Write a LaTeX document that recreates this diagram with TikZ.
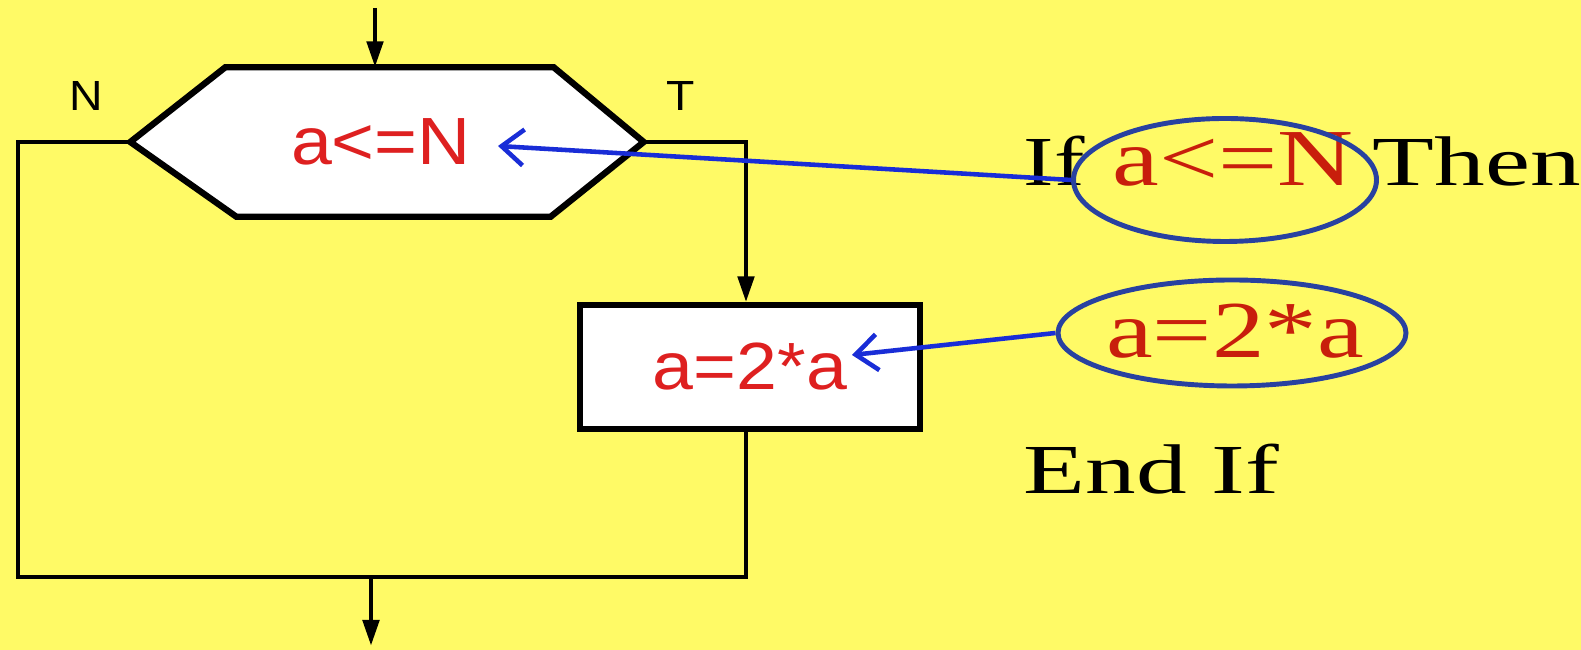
\documentclass[tikz,border=0pt]{standalone}
\usepackage{fontspec}
\setmainfont[FakeStretch=1.3]{Liberation Serif}
\newfontfamily\codewide[FakeStretch=1.44]{Liberation Serif}
\newfontfamily\flowfont[FakeStretch=1.1]{Liberation Sans}
\usepackage{tikz}
\usetikzlibrary{arrows.meta,positioning,shapes.geometric,calc}
\definecolor{IFyellow}{RGB}{255,250,102}
\definecolor{IFred}{RGB}{222,32,32}
\definecolor{IFcode}{RGB}{200,30,12}
\definecolor{IFblue}{RGB}{25,45,215}
\definecolor{IFoval}{RGB}{40,65,160}
\tikzset{
  hexline/.style={line width=1.8pt,draw=black,fill=white,line join=miter},
  procbox/.style={draw=black,line width=1.5pt,fill=white,text=IFred,
                  font=\flowfont\fontsize{19}{22}\selectfont,
                  minimum width=3.4cm,minimum height=1.24cm,inner sep=0pt},
  condtext/.style={text=IFred,font=\flowfont\fontsize{19}{22}\selectfont,
                   minimum width=5.12cm,minimum height=1.48cm,inner sep=0pt},
  branch/.style={font=\flowfont\fontsize{12}{14}\selectfont,text=black},
  code/.style={font=\fontsize{20}{24}\selectfont,text=black,inner sep=0pt},
  codered/.style={font=\fontsize{23}{27}\selectfont,text=IFcode,inner sep=0pt},
  oval/.style={ellipse,draw=IFoval,line width=1.4pt},
  ln/.style={line width=1.4pt,draw=black},
  fl/.style={-{Triangle[length=2.6mm,width=1.6mm]},line width=1.4pt,draw=black},
  pt/.style={-{Straight Barb[length=2.2mm,width=3.6mm]},line width=1.3pt,draw=IFblue}
}
\begin{document}
\begin{tikzpicture}
  \useasboundingbox (0,0) rectangle (15.81,6.5);
  \fill[IFyellow] (0,0) rectangle (15.81,6.5);

  % flowchart
  \node[condtext] (cond) at (3.87,5.08) {};
  \draw[hexline] (cond.west) -- ($(cond.north west)+(0.95,0)$) -- ($(cond.north east)+(-0.9,0)$)
    -- (cond.east) -- ($(cond.south east)+(-0.93,0)$) -- ($(cond.south west)+(1.06,0)$) -- cycle;
  \node[condtext] (condtxt) at (3.81,5.08) {a<=N};
  \node[procbox] (assign) at (7.50,2.83) {a=2*a};
  \node[branch] (lblN) at (0.86,5.54) {N};
  \node[branch] (lblT) at (6.81,5.54) {T};

  \coordinate (in) at (3.75,6.42);
  \coordinate (nl) at (0.18,0.73);
  \coordinate (merge) at (7.46,0.73);
  \coordinate (out) at (3.71,0.04);

  \draw[fl] (in) -- (in |- cond.north);
  \draw[fl] (cond.east) -| (merge |- assign.north);
  \draw[ln] (cond.west) -| (nl) -- (merge) -- (merge |- assign.south);
  \draw[fl] (out |- merge) -- (out);

  % code
  \node[code,anchor=base west] (kwif) at (10.23,4.64) {If};
  \node[codered,anchor=base west] (cond2) at (11.12,4.64) {a<=N};
  \node[code,anchor=base west] (kwthen) at (13.72,4.64) {\codewide Then};
  \node[codered,anchor=base] (assign2) at (12.35,2.92) {a=2*a};
  \node[code,anchor=base west] (kwend) at (10.23,1.56) {\codewide End If};
  \node[oval,minimum width=3.03cm,minimum height=1.23cm] (ell1) at (12.25,4.70) {};
  \node[oval,minimum width=3.48cm,minimum height=1.06cm] (ell2) at (12.32,3.17) {};

  \draw[pt] (ell1.west) -- ($(condtxt.center)+(1.17,-0.04)$);
  \draw[pt] (ell2.west) -- ($(assign.center)+(1.02,0.12)$);
\end{tikzpicture}
\end{document}
